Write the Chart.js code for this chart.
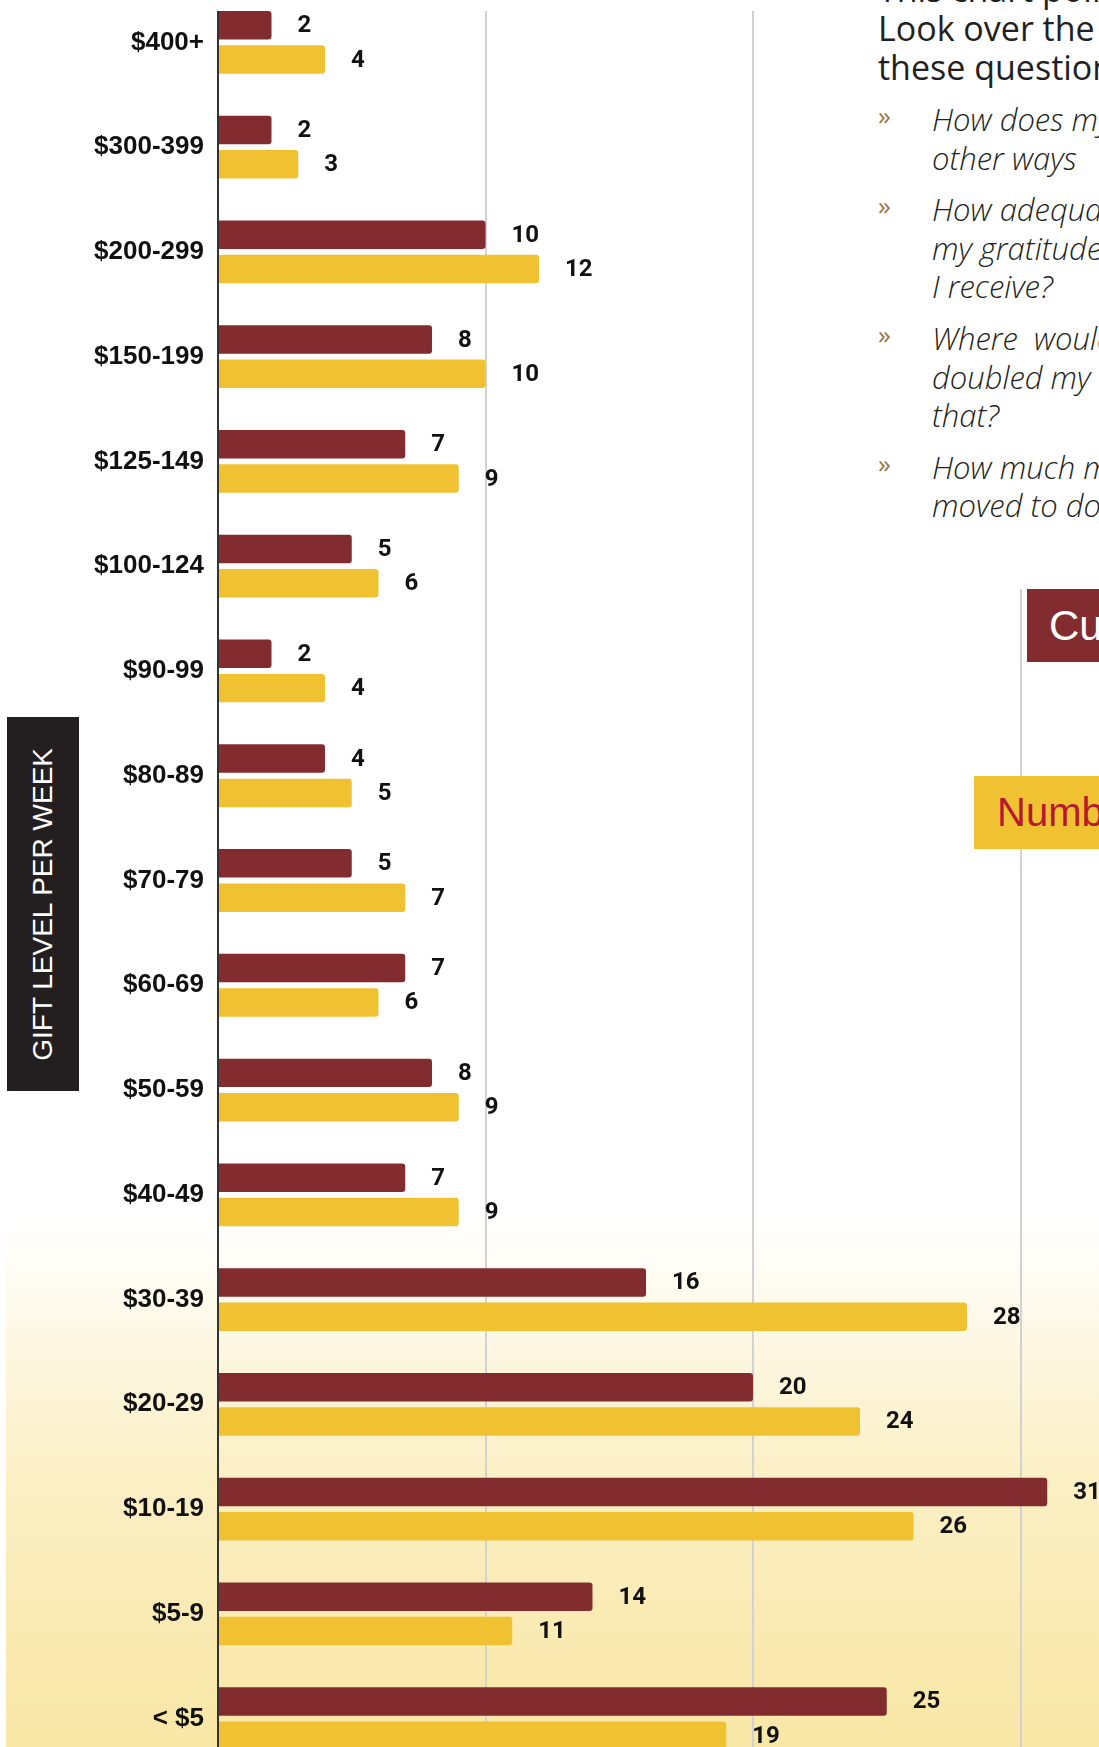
<!DOCTYPE html>
<html lang="en">
<head>
    <meta charset="UTF-8" />
    <title>Gift Level Per Week</title>
    <script src="https://cdn.jsdelivr.net/npm/chart.js"></script>
    <style>
        html, body {
            margin: 0;
            padding: 0;
        }
        body {
            width: 1099px;
            height: 1747px;
            overflow: hidden;
            position: relative;
            background: #fff;
            font-family: 'Liberation Sans', Arial, sans-serif;
        }
        .wash {
            position: absolute;
            left: 6px;
            top: 0;
            width: 1093px;
            height: 1747px;
            background: linear-gradient(to bottom, #fff 0px, #fff 1220px, #fbefc4 1480px, #f9e7a6 1747px);
        }
        .chart-wrap {
            position: absolute;
            left: 0;
            top: 11px;
            width: 1300px;
            height: 1736px;
            overflow: hidden;
        }
        .chart-box {
            position: absolute;
            left: 0;
            top: -21px;
            width: 1288px;
            height: 1781px;
        }
        .axis-title {
            position: absolute;
            left: 7px;
            top: 717px;
            width: 72px;
            height: 374px;
            background: #231f20;
            color: #fff;
            display: flex;
            align-items: center;
            justify-content: center;
        }
        .axis-title span {
            writing-mode: vertical-rl;
            transform: rotate(180deg);
            font-size: 28px;
            white-space: nowrap;
        }
        .notes {
            position: absolute;
            left: 860px;
            top: 0;
            width: 239px;
            height: 589px;
            background: #fff;
            overflow: hidden;
            color: #231f20;
            font-family: 'Open Sans', sans-serif;
        }
        .notes .head {
            position: absolute;
            left: 18px;
            top: -30px;
            font-size: 34px;
            line-height: 39px;
            white-space: nowrap;
        }
        .notes ul {
            position: absolute;
            left: 18px;
            top: 100px;
            margin: 0;
            padding: 0;
            list-style: none;
        }
        .notes li {
            position: relative;
            padding-left: 54px;
            margin-bottom: 13px;
            font-size: 31px;
            font-weight: 300;
            line-height: 38.6px;
            font-style: italic;
            white-space: nowrap;
        }
        .notes li::before {
            content: '\00BB';
            position: absolute;
            left: 0;
            top: -4px;
            font-style: normal;
            font-weight: 400;
            font-size: 26px;
            color: #9a7846;
        }
        .key {
            position: absolute;
            height: 73px;
            line-height: 73px;
            white-space: nowrap;
            overflow: hidden;
            font-family: 'Liberation Sans', Arial, sans-serif;
        }
        .key-current {
            left: 1027px;
            top: 589px;
            width: 200px;
            padding-left: 22px;
            background: #832c2f;
            color: #fff;
            font-size: 42px;
        }
        .key-number {
            left: 974px;
            top: 776px;
            width: 250px;
            padding-left: 23px;
            background: #f0c232;
            color: #b8182f;
            font-size: 40px;
        }
    </style>
</head>
<body>
    <div class="wash"></div>
    <div class="chart-wrap">
        <div class="chart-box">
            <canvas id="giftChart"></canvas>
        </div>
    </div>

    <div class="axis-title"><span>GIFT LEVEL PER WEEK</span></div>

    <div class="notes">
        <div class="head">This chart points<br>Look over the<br>these questions</div>
        <ul>
            <li>How does my<br>other ways</li>
            <li>How adequate<br>my gratitude<br>I receive?</li>
            <li>Where&nbsp; would<br>doubled my<br>that?</li>
            <li>How much more<br>moved to do</li>
        </ul>
    </div>

    <div class="key key-current">Current</div>
    <div class="key key-number">Number</div>

    <script>
        // gift bands, top to bottom
        const giftLevels = ['$400+', '$300-399', '$200-299', '$150-199', '$125-149', '$100-124',
            '$90-99', '$80-89', '$70-79', '$60-69', '$50-59', '$40-49',
            '$30-39', '$20-29', '$10-19', '$5-9', '< $5'];

        const currentCounts = [2, 2, 10, 8, 7, 5, 2, 4, 5, 7, 8, 7, 16, 20, 31, 14, 25];
        const numberCounts  = [4, 3, 12, 10, 9, 6, 4, 5, 7, 6, 9, 9, 28, 24, 26, 11, 19];

        const xTicks = [0, 10, 20, 30, 40];

        // value written just past the end of each bar
        const valueLabels = {
            id: 'valueLabels',
            afterDatasetsDraw(chart) {
                const ctx = chart.ctx;
                ctx.save();
                ctx.font = 'bold 24px Roboto';
                ctx.fillStyle = '#111';
                ctx.textAlign = 'left';
                ctx.textBaseline = 'middle';
                chart.data.datasets.forEach((ds, i) => {
                    chart.getDatasetMeta(i).data.forEach((bar, j) => {
                        ctx.fillText(ds.data[j], bar.x + 26, bar.y + 1);
                    });
                });
                ctx.restore();
            }
        };

        const ctx = document.getElementById('giftChart').getContext('2d');
        new Chart(ctx, {
            type: 'bar',
            data: {
                labels: giftLevels,
                datasets: [{
                    label: 'Current',
                    data: currentCounts,
                    backgroundColor: '#832c2f',
                    borderRadius: 3,
                    borderSkipped: 'start',
                    categoryPercentage: 0.655,
                    barPercentage: 0.83
                }, {
                    label: 'Number',
                    data: numberCounts,
                    backgroundColor: '#f0c232',
                    borderRadius: 3,
                    borderSkipped: 'start',
                    categoryPercentage: 0.655,
                    barPercentage: 0.83
                }]
            },
            options: {
                indexAxis: 'y',
                responsive: true,
                maintainAspectRatio: false,
                animation: false,
                layout: { padding: 0 },
                plugins: {
                    legend: { display: false },
                    tooltip: { enabled: false }
                },
                scales: {
                    x: {
                        min: xTicks[0],
                        max: xTicks[xTicks.length - 1],
                        afterBuildTicks(scale) {
                            scale.ticks = xTicks.map(v => ({ value: v }));
                        },
                        ticks: { display: false },
                        grid: {
                            color: '#d2d2d2',
                            lineWidth: 2,
                            drawTicks: false
                        },
                        border: { display: false }
                    },
                    y: {
                        afterFit(scale) {
                            scale.width = 218;
                            scale.paddingTop = 0;
                            scale.paddingBottom = 0;
                        },
                        ticks: {
                            color: '#111',
                            padding: 14,
                            font: {
                                family: "'Liberation Sans', Arial, sans-serif",
                                size: 26,
                                weight: 'bold'
                            }
                        },
                        grid: { display: false, drawTicks: false },
                        border: {
                            display: true,
                            color: '#333',
                            width: 2
                        }
                    }
                }
            },
            plugins: [valueLabels]
        });
    </script>
</body>
</html>
